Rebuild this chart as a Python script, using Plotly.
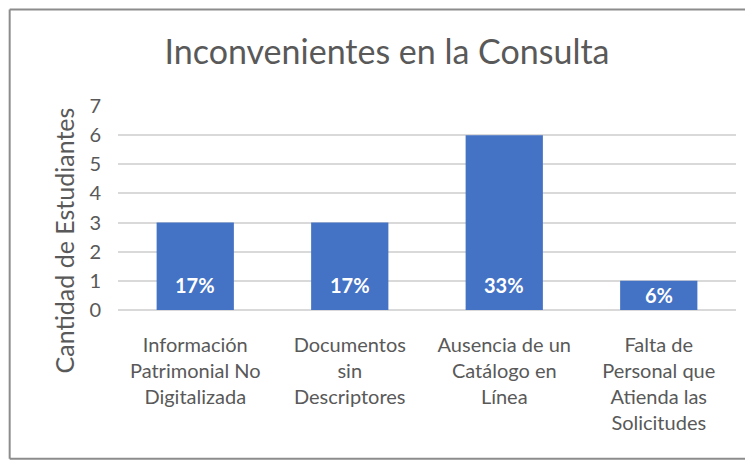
import plotly.graph_objects as go

categories = ["Información<br>Patrimonial No<br>Digitalizada",
              "Documentos<br>sin<br>Descriptores",
              "Ausencia de un<br>Catálogo en<br>Línea",
              "Falta de<br>Personal que<br>Atienda las<br>Solicitudes"]
values = [3, 3, 6, 1]
labels = ["17%", "17%", "33%", "6%"]
y_ticks = [0, 1, 2, 3, 4, 5, 6, 7]

FONT = "Lato"
GRAY = "#595959"

W, H = 745, 454
L, R, T, B = 109.5, 16.5, 97.5, 151.5
pw, ph = W - L - R, H - T - B

fig = go.Figure()
fig.add_trace(go.Bar(x=categories, y=values, marker_color="#4472C4",
                     marker_line_width=0, width=0.5, hoverinfo="skip"))

for c, v, lab in zip(categories, values, labels):
    fig.add_annotation(x=c, y=min(v / 2, 0.85), text=f"<b>{lab}</b>", showarrow=False,
                       font=dict(family=FONT, size=20, color="white"),
                       xanchor="center", yanchor="middle")

# y-axis title (placed as in the reference, below plot centre)
fig.add_annotation(text="Cantidad de Estudiantes", xref="paper", yref="paper",
                   x=(55 - L) / pw, y=(H - B - 233) / ph, textangle=-90,
                   showarrow=False, xanchor="center", yanchor="middle",
                   font=dict(family=FONT, size=25, color=GRAY))

# chart area border (left, top, bottom; right edge lies outside the picture)
bx0, bx1 = (1 - L) / pw, (W + 20 - L) / pw
by0, by1 = (H - B - 452) / ph, (H - B - 0.5) / ph
border = dict(color="#8C8C8C", width=2)
for x0, y0, x1, y1 in [(bx0, by0, bx0, by1), (bx0, by1, bx1, by1), (bx0, by0, bx1, by0)]:
    fig.add_shape(type="line", xref="paper", yref="paper", x0=x0, y0=y0, x1=x1, y1=y1,
                  line=border, layer="below")

fig.update_layout(
    width=W, height=H,
    margin=dict(l=L, r=R, t=T, b=B, autoexpand=False),
    paper_bgcolor="white", plot_bgcolor="white",
    showlegend=False,
    title=dict(text="Inconvenientes en la Consulta", x=(387 - 8) / W, xref="container",
               xanchor="center", y=1 - 44 / H, yref="container", yanchor="middle",
               font=dict(family=FONT, size=34, color=GRAY)),
    font=dict(family=FONT, color=GRAY),
    xaxis=dict(tickfont=dict(family=FONT, size=20, color=GRAY), showgrid=False,
               showline=False, ticks="", ticklen=0, ticklabelstandoff=21),
    yaxis=dict(range=[0, 7], tickvals=y_ticks, tickfont=dict(family=FONT, size=20, color=GRAY),
               gridcolor="#D9D9D9", gridwidth=1.5, zeroline=True, zerolinecolor="#D9D9D9",
               zerolinewidth=1.5, showline=False, ticks="", ticklabelstandoff=16),
)

fig.write_html("out.html")
